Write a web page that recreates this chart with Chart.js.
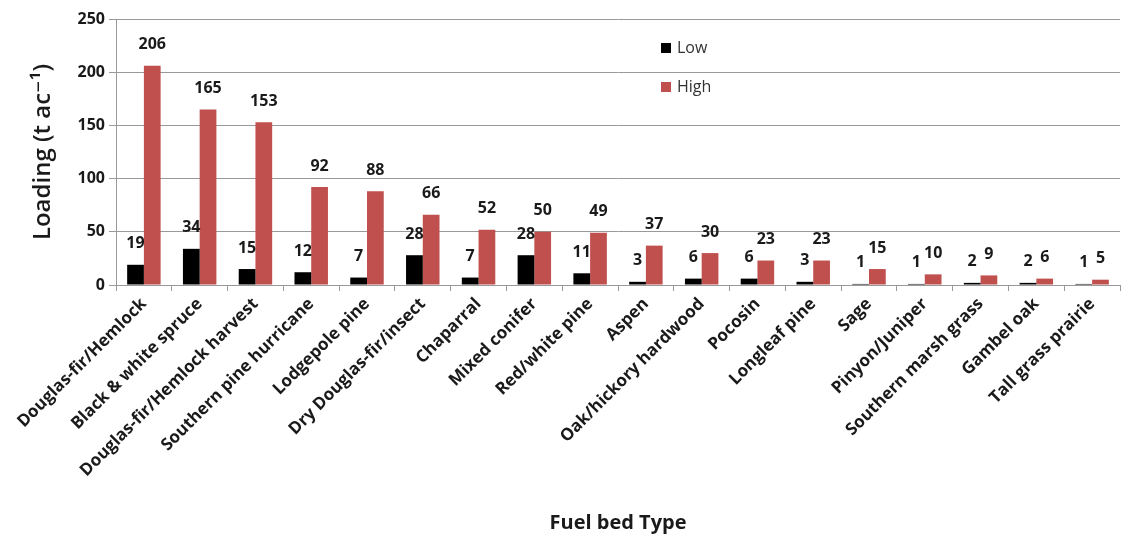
<!DOCTYPE html>
<html>
<head>
<meta charset="utf-8">
<script src="https://cdn.jsdelivr.net/npm/chart.js@4"></script>
<style>
  html, body { margin: 0; padding: 0; background: #fff; }
  #wrap { width: 1129px; height: 537px; }
</style>
</head>
<body>
<div id="wrap"><canvas id="chart" width="1129" height="537"></canvas></div>
<script>
const fuelTypes = [
  "Douglas-fir/Hemlock", "Black & white spruce", "Douglas-fir/Hemlock harvest",
  "Southern pine hurricane", "Lodgepole pine", "Dry Douglas-fir/insect",
  "Chaparral", "Mixed conifer", "Red/white pine", "Aspen",
  "Oak/hickory hardwood", "Pocosin", "Longleaf pine", "Sage",
  "Pinyon/Juniper", "Southern marsh grass", "Gambel oak", "Tall grass prairie"
];
const lowValues = [19, 34, 15, 12, 7, 28, 7, 28, 11, 3, 6, 6, 3, 1, 1, 2, 2, 1];
const highValues = [206, 165, 153, 92, 88, 66, 52, 50, 49, 37, 30, 23, 23, 15, 10, 9, 6, 5];
const yTicks = [0, 50, 100, 150, 200, 250];

const FONT = "'Open Sans', 'DejaVu Sans', sans-serif";

// Etiquetas de valor encima de cada barra
const valueLabels = {
  id: "valueLabels",
  afterDatasetsDraw(chart) {
    const ctx = chart.ctx;
    ctx.save();
    ctx.font = "bold 16px " + FONT;
    ctx.fillStyle = "#1a1a1a";
    ctx.textAlign = "center";
    ctx.textBaseline = "middle";
    chart.data.datasets.forEach((ds, i) => {
      chart.getDatasetMeta(i).data.forEach((bar, j) => {
        ctx.fillText(String(ds.data[j]), bar.x, bar.y - 21);
      });
    });
    ctx.restore();
  }
};

// Leyenda dentro del área del gráfico
const innerLegend = {
  id: "innerLegend",
  afterDraw(chart) {
    const ctx = chart.ctx;
    const x = chart.chartArea.left + 545;
    const ys = [chart.chartArea.top + 29, chart.chartArea.top + 68];
    ctx.save();
    ctx.font = "16px " + FONT;
    ctx.textBaseline = "middle";
    chart.data.datasets.forEach((ds, i) => {
      ctx.fillStyle = ds.backgroundColor;
      ctx.fillRect(x, ys[i] - 5, 10, 10);
      ctx.fillStyle = "#333";
      ctx.fillText(ds.label, x + 16, ys[i]);
    });
    ctx.restore();
  }
};

new Chart(document.getElementById("chart"), {
  type: "bar",
  data: {
    labels: fuelTypes,
    datasets: [
      { label: "Low", data: lowValues, backgroundColor: "#000000",
        categoryPercentage: 0.6, barPercentage: 1.0 },
      { label: "High", data: highValues, backgroundColor: "#C0504D",
        categoryPercentage: 0.6, barPercentage: 1.0 }
    ]
  },
  options: {
    responsive: false,
    animation: false,
    layout: { padding: { left: 0, right: 9, top: 19, bottom: 0 } },
    plugins: {
      legend: { display: false },
      tooltip: { enabled: false }
    },
    scales: {
      x: {
        grid: {
          offset: true,
          drawOnChartArea: false,
          color: "#999",
          tickLength: 6
        },
        border: { color: "#999" },
        ticks: {
          minRotation: 45,
          maxRotation: 45,
          autoSkip: false,
          color: "#1a1a1a",
          font: { family: FONT, size: 17, weight: "bold" }
        },
        title: {
          display: true,
          text: "Fuel bed Type",
          color: "#1a1a1a",
          font: { family: FONT, size: 20, weight: "bold" },
          padding: { top: 4, bottom: 2 }
        },
        afterFit(scale) { scale.height = 252; }
      },
      y: {
        min: 0,
        max: 250,
        afterBuildTicks(scale) { scale.ticks = yTicks.map(v => ({ value: v })); },
        grid: { color: "#999", tickLength: 7 },
        border: { color: "#999" },
        ticks: {
          color: "#1a1a1a",
          padding: 4,
          font: { family: FONT, size: 16, weight: "bold" }
        },
        title: {
          display: true,
          text: "Loading (t ac\u207B\u00B9)",
          color: "#1a1a1a",
          font: { family: FONT, size: 24, weight: "600" },
          padding: { top: 29, bottom: 6 }
        },
        afterFit(scale) { scale.width = 116; }
      }
    }
  },
  plugins: [valueLabels, innerLegend]
});
</script>
</body>
</html>
